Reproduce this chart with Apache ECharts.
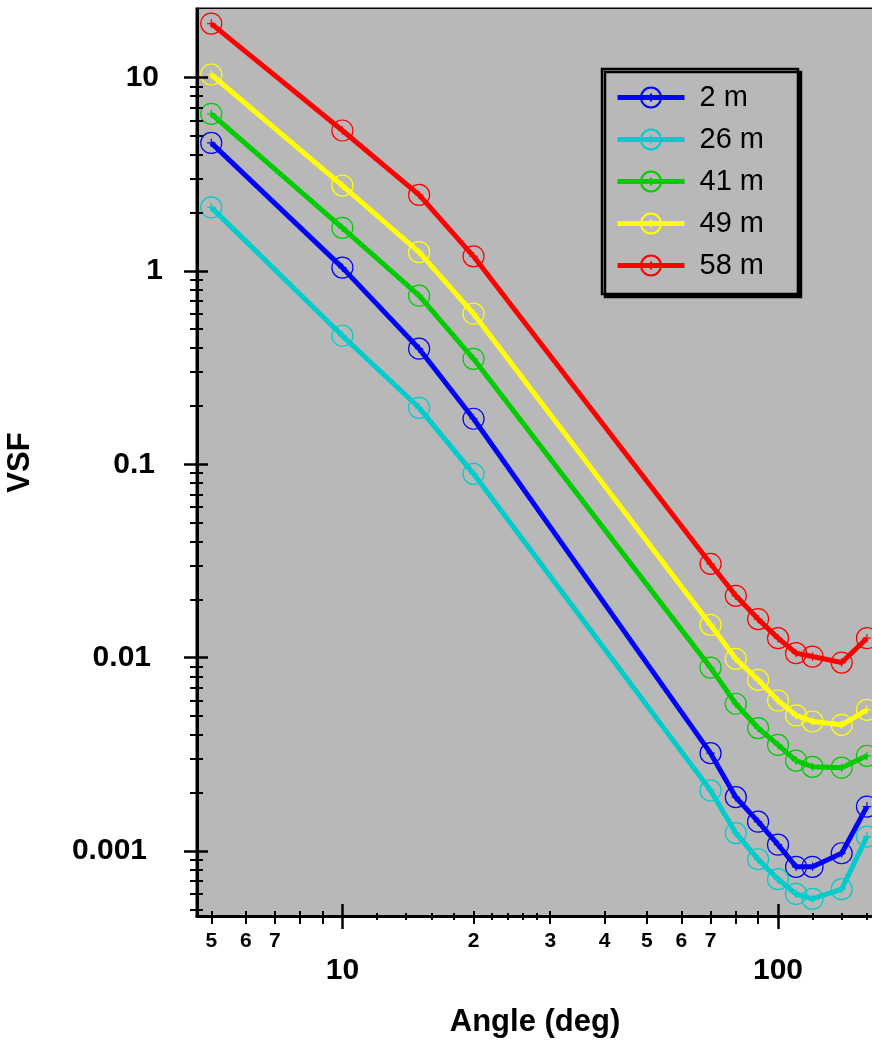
<!DOCTYPE html>
<html><head><meta charset="utf-8">
<script src="https://cdn.jsdelivr.net/npm/echarts@6/dist/echarts.min.js"></script>
<style>html,body{margin:0;padding:0;background:#fff;overflow:hidden}#c{width:872px;height:1044px}</style>
</head><body><div id="c"></div>
<script>
// ---- data ----
const angles = [5, 10, 15, 20, 70, 80, 90, 100, 110, 120, 140, 160];
const vsf_2m  = [4.59, 1.04, 0.396, 0.172, 0.00321, 0.00190, 0.00142, 0.00108, 0.00083, 0.00083, 0.000975, 0.00170];
const vsf_26m = [2.13, 0.462, 0.196, 0.0893, 0.00206, 0.00124, 0.000908, 0.000716, 0.000601, 0.000567, 0.000636, 0.00119];
const vsf_41m = [6.49, 1.67, 0.745, 0.351, 0.00889, 0.00578, 0.00433, 0.00354, 0.00294, 0.00273, 0.00270, 0.00311];
const vsf_49m = [10.36, 2.76, 1.25, 0.601, 0.01479, 0.00987, 0.00769, 0.00601, 0.00503, 0.00468, 0.00450, 0.00538];
const vsf_58m = [19.0, 5.32, 2.47, 1.19, 0.0306, 0.0209, 0.01584, 0.01262, 0.01056, 0.01014, 0.00944, 0.01262];
const seriesNames = ['2 m', '26 m', '41 m', '49 m', '58 m'];
const seriesValues = [vsf_2m, vsf_26m, vsf_41m, vsf_49m, vsf_58m];
const seriesColors = ['#0000ff', '#00cccc', '#00cc00', '#ffff00', '#ff0000'];

const yMajorTicks = [0.001, 0.01, 0.1, 1, 10];
const yTickLabels = ['0.001', '0.01', '0.1', '1', '10'];
const yMinorTicks = [0.0005, 0.0006, 0.0007, 0.0008, 0.0009,
  0.002, 0.003, 0.004, 0.005, 0.006, 0.007, 0.008, 0.009,
  0.02, 0.03, 0.04, 0.05, 0.06, 0.07, 0.08, 0.09,
  0.2, 0.3, 0.4, 0.5, 0.6, 0.7, 0.8, 0.9,
  2, 3, 4, 5, 6, 7, 8, 9];
const xMajorTicks = [10, 100];
const xMajorLabels = ['10', '100'];
const xMinorTicks = [5, 6, 7, 8, 9, 20, 30, 40, 50, 60, 70, 80, 90];
const xMinorLabelValues = [5, 6, 7, 20, 30, 40, 50, 60, 70];
const xMinorLabels = ['5', '6', '7', '2', '3', '4', '5', '6', '7'];
const xTinyTicks = [12, 14, 16, 18, 22, 24, 26, 28, 120, 140, 160];

const X_MIN = 4.637, X_MAX = 165.2;
const Y_MIN = 0.000462, Y_MAX = 22.6;

// ---- chart ----
const FONT = 'Liberation Sans, Arial, sans-serif';
const PLOT_BG = '#b8b8b8';
const chart = echarts.init(document.getElementById('c'), null, {renderer: 'canvas'});

function lookup(vals, labels, v) {
  let best = 0, bd = Infinity;
  vals.forEach((x, i) => { const d = Math.abs(Math.log10(x) - Math.log10(v)); if (d < bd) { bd = d; best = i; } });
  return labels[best];
}

// tick-only axes; "inward" ticks are drawn by axes of helper grids that sit
// just outside the plot, pointing back into it
function tickAxisX(values, gridIndex, position, length, width) {
  return {
    type: 'log', gridIndex: gridIndex, position: position, min: X_MIN, max: X_MAX, z: 10,
    axisLine: {show: false, onZero: false}, splitLine: {show: false}, axisLabel: {show: false},
    axisTick: {show: true, customValues: values, length: length,
      lineStyle: {color: '#000', width: width}}
  };
}
function tickAxisY(values, gridIndex, position, length, width) {
  return {
    type: 'log', gridIndex: gridIndex, position: position, min: Y_MIN, max: Y_MAX, z: 10,
    axisLine: {show: false, onZero: false}, splitLine: {show: false}, axisLabel: {show: false},
    axisTick: {show: true, customValues: values, length: length,
      lineStyle: {color: '#000', width: width}}
  };
}

const yLabelRich = {};
[1, 2, 3, 4, 5].forEach(n => {
  yLabelRich['p' + n] = {fontSize: 30, fontWeight: 'bold', color: '#000', fontFamily: FONT,
    padding: [0, 4 * (n - 1), 0, 0]};
});

const symbolPath = 'path://M10,0A10,10,0,1,1,-10,0A10,10,0,1,1,10,0ZM0,-4L0,4M-4,0L4,0';

const dataSeries = seriesValues.map((vals, i) => ({
  name: seriesNames[i], type: 'line', xAxisIndex: 0, yAxisIndex: 0,
  data: angles.map((a, j) => [a, vals[j]]),
  symbol: symbolPath, symbolSize: 21, showAllSymbol: true,
  itemStyle: {color: 'rgba(0,0,0,0)', borderColor: seriesColors[i], borderWidth: 1.2},
  lineStyle: {color: seriesColors[i], width: 5},
  emphasis: {disabled: true},
  z: 3 + i
}));

// plot background, spanning the axis ranges
const bgSeries = {
  name: 'plot background', type: 'line', xAxisIndex: 0, yAxisIndex: 0, data: [],
  z: 1, silent: true,
  markArea: {
    silent: true, itemStyle: {color: PLOT_BG, borderWidth: 0},
    data: [[{coord: [X_MIN, Y_MIN]}, {coord: [X_MAX, Y_MAX]}]]
  }
};
// empty series so that the helper grids are in use
const helperSeries = [
  {name: 'helper-y', type: 'line', xAxisIndex: 8, yAxisIndex: 2, data: [], silent: true},
  {name: 'helper-x', type: 'line', xAxisIndex: 2, yAxisIndex: 5, data: [], silent: true}
];

const option = {
  animation: false,
  backgroundColor: '#ffffff',
  textStyle: {fontFamily: FONT},
  grid: [
    {
      left: 197, top: 9, width: 676, height: 907,
      show: true, backgroundColor: 'transparent', borderColor: '#000', borderWidth: 3,
      containLabel: false, outerBoundsMode: 'none'
    },
    {left: 0, top: 9, width: 197, height: 907, show: false, containLabel: false, outerBoundsMode: 'none'},
    {left: 197, top: 916, width: 676, height: 100, show: false, containLabel: false, outerBoundsMode: 'none'}
  ],
  legend: {
    orient: 'vertical', left: 602, top: 69,
    itemWidth: 67, itemHeight: 25, itemGap: 13,
    padding: [14, 34, 14, 13],
    backgroundColor: PLOT_BG, borderColor: '#000', borderWidth: 2.5,
    shadowColor: '#000', shadowOffsetX: 3, shadowOffsetY: 3, shadowBlur: 0,
    lineStyle: {width: 5},
    textStyle: {fontSize: 29, color: '#000', fontFamily: FONT, padding: [0, 0, 0, 10]},
    data: seriesNames,
    selectedMode: false,
    z: 20
  },
  xAxis: [
    {
      type: 'log', gridIndex: 0, position: 'bottom', min: X_MIN, max: X_MAX, z: 10,
      axisLine: {show: true, onZero: false, lineStyle: {color: '#000', width: 3}},
      axisTick: {show: false}, splitLine: {show: false},
      axisLabel: {show: true, customValues: xMajorTicks, margin: 40,
        fontSize: 30, fontWeight: 'bold', color: '#000', fontFamily: FONT,
        formatter: v => lookup(xMajorTicks, xMajorLabels, v)},
      name: 'Angle (deg)', nameLocation: 'middle', nameGap: 91,
      nameTextStyle: {fontSize: 31, fontWeight: 'bold', color: '#000', fontFamily: FONT}
    },
    tickAxisX(xMajorTicks, 0, 'bottom', 13, 2.5),
    tickAxisX(xMajorTicks, 2, 'top', 12, 2.5),
    tickAxisX(xMinorTicks, 0, 'bottom', 8, 2),
    tickAxisX(xMinorTicks, 2, 'top', 5, 2),
    tickAxisX(xTinyTicks, 0, 'bottom', 4, 2),
    tickAxisX(xTinyTicks, 2, 'top', 3, 2),
    {
      type: 'log', gridIndex: 0, position: 'bottom', min: X_MIN, max: X_MAX,
      axisLine: {show: false, onZero: false}, axisTick: {show: false}, splitLine: {show: false},
      axisLabel: {show: true, customValues: xMinorLabelValues, margin: 15,
        fontSize: 21, fontWeight: 'bold', color: '#000', fontFamily: FONT,
        formatter: v => lookup(xMinorLabelValues, xMinorLabels, v)}
    },
    {type: 'log', gridIndex: 1, min: X_MIN, max: X_MAX, show: false}
  ],
  yAxis: [
    {
      type: 'log', gridIndex: 0, position: 'left', min: Y_MIN, max: Y_MAX, z: 10,
      axisLine: {show: true, onZero: false, lineStyle: {color: '#000', width: 3}},
      axisTick: {show: false}, splitLine: {show: false},
      axisLabel: {show: true, customValues: yMajorTicks, margin: 34,
        fontSize: 30, fontWeight: 'bold', color: '#000', fontFamily: FONT,
        formatter: v => { const t = lookup(yMajorTicks, yTickLabels, v); return '{p' + t.length + '|' + t + '}'; },
        rich: yLabelRich},
      name: 'VSF', nameLocation: 'middle', nameGap: 161, nameRotate: 90,
      nameTextStyle: {fontSize: 31, fontWeight: 'bold', color: '#000', fontFamily: FONT}
    },
    tickAxisY(yMajorTicks, 0, 'left', 13, 2.5),
    tickAxisY(yMajorTicks, 1, 'right', 11, 2.5),
    tickAxisY(yMinorTicks, 0, 'left', 7, 2),
    tickAxisY(yMinorTicks, 1, 'right', 6, 2),
    {type: 'log', gridIndex: 2, min: Y_MIN, max: Y_MAX, show: false}
  ],
  series: [bgSeries].concat(helperSeries, dataSeries)
};
chart.setOption(option);
</script>
</body></html>
